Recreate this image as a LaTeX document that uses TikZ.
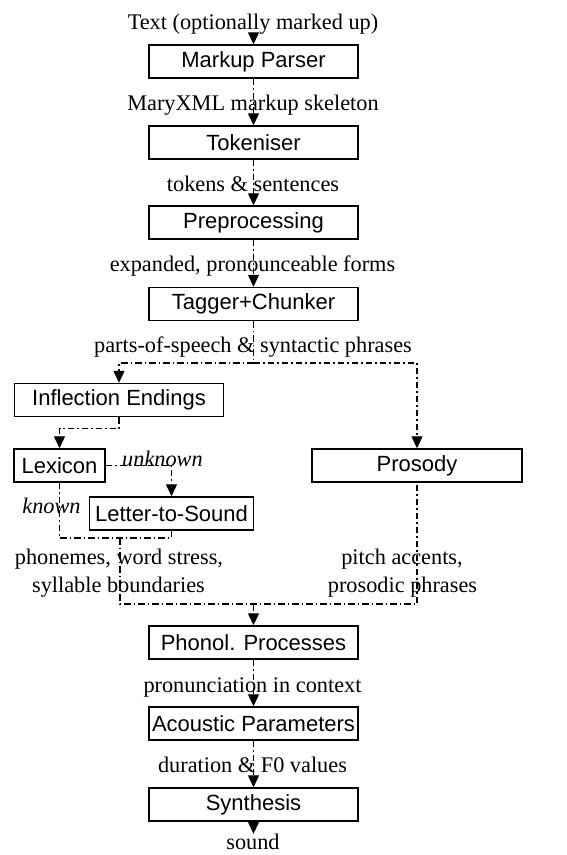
\documentclass[tikz,border=0pt]{standalone}
\usepackage{fontspec}
\setmainfont{Liberation Serif}
\setsansfont{Liberation Sans}
\usetikzlibrary{arrows.meta}
\begin{document}
\begin{tikzpicture}[x=1pt,y=-1pt,
  box/.style={draw,line width=1.4pt,inner sep=0pt,minimum height=33pt,
    font=\sffamily\fontsize{22}{26}\selectfont},
  mainbox/.style={box,minimum width=209pt},
  lbl/.style={inner sep=0pt,anchor=base,font=\fontsize{22.3}{28}\selectfont},
  ilbl/.style={lbl,font=\itshape\fontsize{22.3}{28}\selectfont},
  conn/.style={line width=1.2pt,dash pattern=on 6.5pt off 3pt on 1.5pt off 3pt},
  arr/.style={conn,-{Triangle[length=12pt,width=11pt]}}]
\useasboundingbox (0,0) rectangle (567,855);

% boxes
\node[mainbox] (mp)   at (253.5,61.5)  {Markup Parser};
\node[mainbox] (tok)  at (253.5,142.5) {Tokeniser};
\node[mainbox] (pre)  at (253.5,222.5) {Preprocessing};
\node[mainbox] (tag)  at (253.5,304)   {Tagger+Chunker};
\node[box,minimum width=209pt] (infl) at (119,400) {Inflection Endings};
\node[box,minimum width=91pt]  (lex)  at (59.5,465.5) {Lexicon};
\node[box,minimum width=164pt] (lts)  at (171.5,513.5) {Letter-to-Sound};
\node[box,minimum width=210pt] (pros) at (417,465.5) {Prosody};
\node[mainbox] (pho)  at (253.5,642.5) {Phonol. Processes};
\node[mainbox] (acou) at (253.5,723.5) {Acoustic Parameters};
\node[mainbox] (syn)  at (253.5,804.5) {Synthesis};

% labels
\node[lbl] (txt)   at (253,29)    {Text (optionally marked up)};
\node[lbl] (mxml)  at (253,110)   {MaryXML markup skeleton};
\node[lbl] (toks)  at (253,191.5) {tokens \& sentences};
\node[lbl] (expf)  at (252.5,271) {expanded, pronounceable forms};
\node[lbl] (pos)   at (253,352)   {parts-of-speech \& syntactic phrases};
\node[ilbl] (unk)  at (162.5,466) {unknown};
\node[ilbl] (kn)   at (51.5,513)  {known};
\node[lbl] (phon1) at (119,564)   {phonemes, word stress,};
\node[lbl] (phon2) at (118.5,592) {syllable boundaries};
\node[lbl] (pit1)  at (402,564)   {pitch accents,};
\node[lbl] (pit2)  at (402.5,592) {prosodic phrases};
\node[lbl] (pron)  at (252.5,692) {pronunciation in context};
\node[lbl] (dur)   at (252.5,772) {duration \& F0 values};
\node[lbl] (snd)   at (253,849.5) {sound};

% coordinates
\coordinate (split) at (253.5,363);
\coordinate (c3) at (120,538);
\coordinate (c4) at (120,604);
\coordinate (c5) at (253.5,604);
\coordinate (c6) at (417,604);

% connectors
\draw[arr] (txt.south -| mp.north) -- (mp.north);
\draw[arr] (mp.south) -- (tok.north);
\draw[arr] (tok.south) -- (pre.north);
\draw[arr] (pre.south) -- (tag.north);
\draw[conn] (tag.south) -- (split);
\draw[arr] (split) -| (infl.north);
\draw[arr] (split) -| (pros.north);
\draw[arr] (infl.south) -- ++(0,11) -| (lex.north);
\draw[arr] (lex.east) -| (lts.north);
\draw[conn] (lex.south) |- (c3 -| lts.south) -- (lts.south);
\draw[conn] (c3) -- (c4) -- (c6) -- (pros.south);
\draw[arr] (c5) -- (pho.north);
\draw[arr] (pho.south) -- (acou.north);
\draw[arr] (acou.south) -- (syn.north);
\draw[arr] (syn.south) -- (snd.north -| syn.south);
\end{tikzpicture}
\end{document}
